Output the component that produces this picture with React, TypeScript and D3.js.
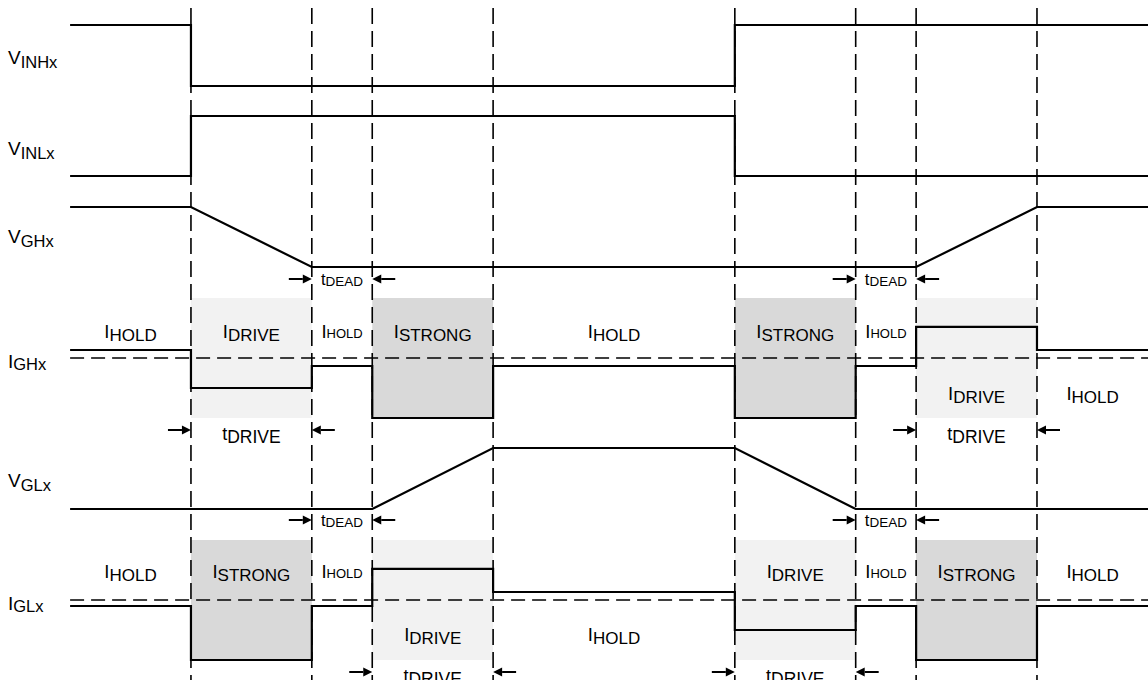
import React from "react";
import * as d3 from "d3";

// ---- time events (units: tDEAD = 1, tDRIVE = 2) ----
const eventTimes = [2, 4, 5, 7, 11, 13, 14, 16];
const timeDomain = [0, 18];

// ---- voltage waveforms: [time, level 0..1] ----
const vinhxSteps: [number, number][] = [[0, 1], [2, 0], [11, 1], [18, 1]];
const vinlxSteps: [number, number][] = [[0, 0], [2, 1], [11, 0], [18, 0]];
const vghxPoints: [number, number][] = [[0, 1], [2, 1], [4, 0], [14, 0], [16, 1], [18, 1]];
const vglxPoints: [number, number][] = [[0, 0], [5, 0], [7, 1], [11, 1], [13, 0], [18, 0]];

// ---- gate currents: step values at segment starts ----
const currentTimes = [0, 2, 4, 5, 7, 11, 13, 14, 16, 18];
const ighxValues = [1, -3.75, -1, -7.5, -1, -7.5, -1, 3.9, 1, 1];
const iglxValues = [-0.75, -7.5, -0.75, 3.9, 1, -3.75, -0.75, -7.5, -0.75, -0.75];

// ---- shaded current phases ----
const ighxBands = [
  { t0: 2, t1: 4, kind: "drive" },
  { t0: 5, t1: 7, kind: "strong" },
  { t0: 11, t1: 13, kind: "strong" },
  { t0: 14, t1: 16, kind: "drive" },
];
const iglxBands = [
  { t0: 2, t1: 4, kind: "strong" },
  { t0: 5, t1: 7, kind: "drive" },
  { t0: 11, t1: 13, kind: "drive" },
  { t0: 14, t1: 16, kind: "strong" },
];
const bandHalf = 7.5;

// ---- phase labels (time centre, value) ----
const ighxLabels = [
  { t: 1, v: 2.5, sub: "HOLD", small: false },
  { t: 3, v: 2.5, sub: "DRIVE", small: false },
  { t: 4.5, v: 2.5, sub: "HOLD", small: true },
  { t: 6, v: 2.5, sub: "STRONG", small: false },
  { t: 9, v: 2.5, sub: "HOLD", small: false },
  { t: 12, v: 2.5, sub: "STRONG", small: false },
  { t: 13.5, v: 2.5, sub: "HOLD", small: true },
  { t: 15, v: -5.25, sub: "DRIVE", small: false },
  { t: 16.92, v: -5.25, sub: "HOLD", small: false },
];
const iglxLabels = [
  { t: 1, v: 2.75, sub: "HOLD", small: false },
  { t: 3, v: 2.75, sub: "STRONG", small: false },
  { t: 4.5, v: 2.75, sub: "HOLD", small: true },
  { t: 6, v: -5.1, sub: "DRIVE", small: false },
  { t: 9, v: -5.1, sub: "HOLD", small: false },
  { t: 12, v: 2.75, sub: "DRIVE", small: false },
  { t: 13.5, v: 2.75, sub: "HOLD", small: true },
  { t: 15, v: 2.75, sub: "STRONG", small: false },
  { t: 16.92, v: 2.75, sub: "HOLD", small: false },
];

// ---- timing annotations ----
const deadTimes = [[4, 5], [13, 14]];
const ighxDriveTimes = [[2, 4], [14, 16]];
const iglxDriveTimes = [[5, 7], [11, 13]];

// ---- row names ----
const rowNames = [
  { main: "V", sub: "INHx" },
  { main: "V", sub: "INLx" },
  { main: "V", sub: "GHx" },
  { main: "I", sub: "GHx" },
  { main: "V", sub: "GLx" },
  { main: "I", sub: "GLx" },
];

const W = 1148;
const H = 680;
const FONT = "'Liberation Sans', Arial, Helvetica, sans-serif";
const LIGHT = "#f2f2f2";
const DARK = "#d9d9d9";

const x = d3.scaleLinear().domain(timeDomain).range([70.1, 70.1 + 60.43 * 18]);
const vScale = (low: number, high: number) => d3.scaleLinear().domain([0, 1]).range([low, high]);
const iScale = (ref: number) => d3.scaleLinear().domain([-10, 10]).range([ref + 80, ref - 80]);

const yVinh = vScale(86, 25);
const yVinl = vScale(176, 116);
const yVgh = vScale(267, 207);
const yVgl = vScale(509, 448);
const yIgh = iScale(358);
const yIgl = iScale(600);

function Label({ cx, cy, main, sub, mainSize, subSize, dy, anchor = "middle" }: any) {
  return (
    <text x={cx} y={cy} textAnchor={anchor} fontFamily={FONT} fontSize={mainSize} fill="#000">
      <tspan>{main}</tspan>
      <tspan fontSize={subSize} dy={dy}>{sub}</tspan>
    </text>
  );
}

function Arrow({ tip, y, dir }: { tip: number; y: number; dir: number }) {
  const tail = tip - dir * 23;
  const base = tip - dir * 9;
  return (
    <g>
      <line x1={tail} x2={base} y1={y} y2={y} stroke="#000" strokeWidth={2} />
      <path d={`M${tip},${y} L${base},${y - 4.5} L${base},${y + 4.5} Z`} fill="#000" />
    </g>
  );
}

function TimeSpan({ t0, t1, y, sub, big }: any) {
  const a = x(t0), b = x(t1);
  return (
    <g>
      <Arrow tip={a} y={y} dir={1} />
      <Arrow tip={b} y={y} dir={-1} />
      <Label
        cx={(a + b) / 2}
        cy={big ? y + 10 : y + 6}
        main="t"
        sub={sub}
        mainSize={big ? 18 : 16.5}
        subSize={big ? 17.5 : 13.5}
        dy={big ? 3 : 1}
      />
    </g>
  );
}

export default function App() {
  const stepLine = d3
    .line<[number, number]>()
    .x((d) => x(d[0]))
    .curve(d3.curveStepAfter);
  const linLine = d3.line<[number, number]>().x((d) => x(d[0]));

  const vPath = (pts: [number, number][], ys: any, step: boolean) =>
    (step ? stepLine : linLine).y((d) => ys(d[1]))(pts) || "";

  const iPts = (vals: number[]) => currentTimes.map((t, i) => [t, vals[i]] as [number, number]);

  const solid = { fill: "none", stroke: "#000", strokeWidth: 2.2, strokeLinejoin: "miter" as const };
  const dashed = { stroke: "#000", strokeWidth: 1.6, strokeDasharray: "16 7" };
  const hDashed = { stroke: "#000", strokeWidth: 1.6, strokeDasharray: "14 7" };

  const bands = (list: any[], ys: any) =>
    list.map((b, i) => (
      <rect
        key={i}
        x={x(b.t0)}
        y={ys(bandHalf)}
        width={x(b.t1) - x(b.t0)}
        height={ys(-bandHalf) - ys(bandHalf)}
        fill={b.kind === "drive" ? LIGHT : DARK}
      />
    ));

  const phaseLabels = (list: any[], ys: any) =>
    list.map((l, i) => (
      <Label
        key={i}
        cx={x(l.t)}
        cy={ys(l.v)}
        main="I"
        sub={l.sub}
        mainSize={18.5}
        subSize={l.small ? 13 : 17}
        dy={l.small ? 0 : 3}
      />
    ));

  const rowY = [yVinh(0.5) + 8, yVinl(0.5) + 9, yVgh(0.5) + 6, yIgh(0) + 10, yVgl(0.5) + 8, yIgl(0) + 10];

  return (
    <svg width={W} height={H} style={{ position: "absolute", left: 0, top: 0, background: "#fff" }}>
      <rect width={W} height={H} fill="#fff" />
      {bands(ighxBands, yIgh)}
      {bands(iglxBands, yIgl)}

      <line x1={x(0)} x2={W} y1={yIgh(0)} y2={yIgh(0)} {...hDashed} />
      <line x1={x(0)} x2={W} y1={yIgl(0)} y2={yIgl(0)} {...hDashed} />

      {eventTimes.map((t, i) => (
        <line key={i} x1={x(t)} x2={x(t)} y1={8} y2={H} {...dashed} />
      ))}

      <path d={vPath(vinhxSteps, yVinh, true)} {...solid} />
      <path d={vPath(vinlxSteps, yVinl, true)} {...solid} />
      <path d={vPath(vghxPoints, yVgh, false)} {...solid} />
      <path d={vPath(vglxPoints, yVgl, false)} {...solid} />
      <path d={vPath(iPts(ighxValues), yIgh, true)} {...solid} />
      <path d={vPath(iPts(iglxValues), yIgl, true)} {...solid} />

      {phaseLabels(ighxLabels, yIgh)}
      {phaseLabels(iglxLabels, yIgl)}

      {deadTimes.map((d, i) => (
        <TimeSpan key={"dh" + i} t0={d[0]} t1={d[1]} y={yVgh(-0.2)} sub="DEAD" big={false} />
      ))}
      {deadTimes.map((d, i) => (
        <TimeSpan key={"dl" + i} t0={d[0]} t1={d[1]} y={yVgl(-0.18)} sub="DEAD" big={false} />
      ))}
      {ighxDriveTimes.map((d, i) => (
        <TimeSpan key={"rh" + i} t0={d[0]} t1={d[1]} y={yIgh(-9)} sub="DRIVE" big={true} />
      ))}
      {iglxDriveTimes.map((d, i) => (
        <TimeSpan key={"rl" + i} t0={d[0]} t1={d[1]} y={yIgl(-9)} sub="DRIVE" big={true} />
      ))}

      {rowNames.map((r, i) => (
        <Label
          key={i}
          cx={8}
          cy={rowY[i]}
          anchor="start"
          main={r.main}
          sub={r.sub}
          mainSize={19}
          subSize={16.5}
          dy={r.main === "V" ? 4 : 2}
        />
      ))}
    </svg>
  );
}
